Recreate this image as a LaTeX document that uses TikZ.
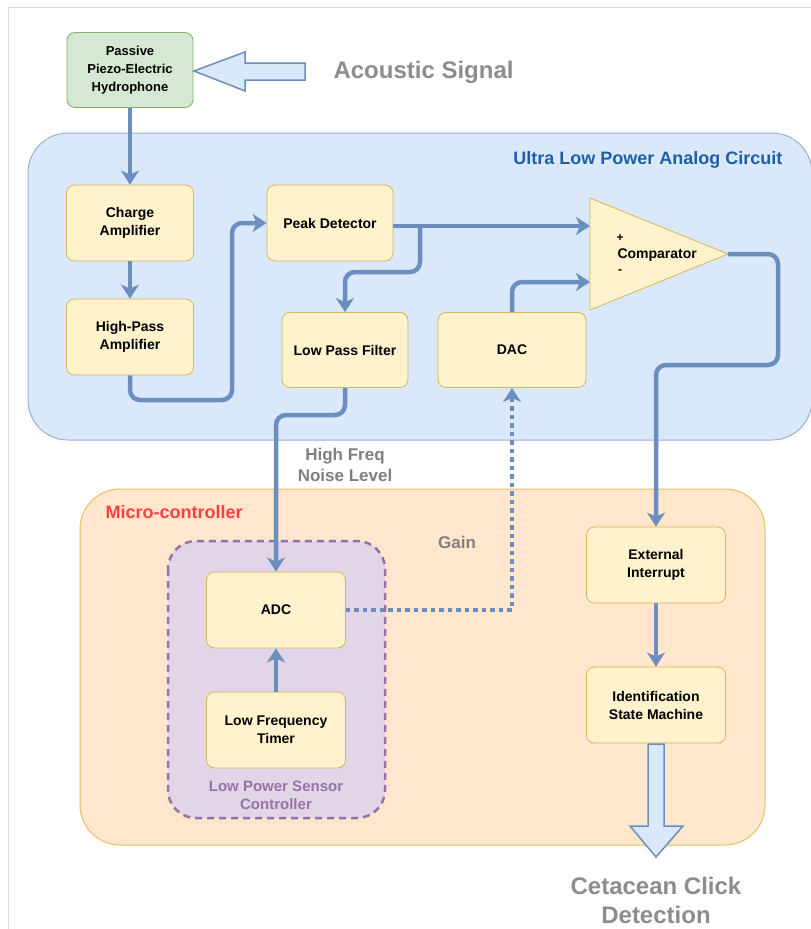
\documentclass[tikz,border=0pt]{standalone}
\usepackage{fontspec}
\setmainfont{Liberation Sans}
\usetikzlibrary{arrows.meta}
\definecolor{arrowc}{HTML}{6C8EBF}
\definecolor{bluefill}{HTML}{DAE8FC}
\definecolor{boxfill}{HTML}{FFF2CC}
\definecolor{boxline}{HTML}{D6B656}
\definecolor{greenfill}{HTML}{D5E8D4}
\definecolor{greenline}{HTML}{82B366}
\definecolor{orangefill}{HTML}{FFE6CC}
\definecolor{orangeline}{HTML}{E8BE60}
\definecolor{purplefill}{HTML}{E1D5E7}
\definecolor{purpleline}{HTML}{9673A6}
\definecolor{labelgray}{HTML}{808080}
\definecolor{titleblue}{HTML}{1F5FA8}
\definecolor{titlered}{HTML}{FF4040}
\tikzset{
  blk/.style={draw=boxline, fill=boxfill, line width=0.8pt, rounded corners=8pt,
    inner sep=0pt, align=center, font=\fontsize{14}{18}\selectfont\bfseries},
  conn/.style={draw=arrowc, line width=4.5pt, rounded corners=10pt,
    -{Stealth[length=14pt,width=18pt,inset=4pt]}},
  dotconn/.style={conn, dash pattern=on 4.5pt off 4pt},
  hollow/.style={draw=arrowc, fill=bluefill, line width=1.5pt, line join=miter},
  glabel/.style={text=labelgray, font=\fontsize{17}{21}\selectfont\bfseries, align=center},
}
\begin{document}
\begin{tikzpicture}[x=1pt,y=-1pt]
\useasboundingbox (0,0) rectangle (811,929);
\fill[white] (0,0) rectangle (811,929);
% page frame
\draw[black!15, line width=1pt] (8,929) -- (8,7) -- (811,7);
% containers
\draw[fill=bluefill, draw=arrowc!70, line width=1pt, rounded corners=40pt] (28,133) rectangle (812,440);
\node[anchor=east, text=titleblue, font=\fontsize{18}{22}\selectfont\bfseries] (titleA) at (786,160) {Ultra Low Power Analog Circuit};
\draw[fill=orangefill, draw=orangeline, line width=1pt, rounded corners=40pt] (80,489) rectangle (765,845);
\node[anchor=west, text=titlered, font=\fontsize{18}{22}\selectfont\bfseries] (titleM) at (102,512) {Micro-controller};
\draw[fill=purplefill, draw=purpleline, line width=2.5pt, dash pattern=on 7pt off 5pt, rounded corners=28pt] (168,541) rectangle (385,818);
\node[text=purpleline, font=\fontsize{15}{18}\selectfont\bfseries, align=center] (lpsc) at (276,795) {Low Power Sensor\\Controller};
% nodes
\node[blk, draw=greenline, fill=greenfill, minimum width=126pt, minimum height=75pt, font=\fontsize{13}{18}\selectfont\bfseries] (hyd) at (130,70) {Passive\\Piezo-Electric\\Hydrophone};
\node[blk, minimum width=127pt, minimum height=76pt] (charge) at (130,223) {Charge\\Amplifier};
\node[blk, minimum width=127pt, minimum height=76pt] (hp) at (130,337) {High-Pass\\Amplifier};
\node[blk, minimum width=126pt, minimum height=76pt] (peak) at (330,223) {Peak Detector};
\node[blk, minimum width=126pt, minimum height=75pt] (lpf) at (345,350) {Low Pass Filter};
\node[blk, minimum width=148pt, minimum height=75pt] (dac) at (512,350) {DAC};
\node[blk, minimum width=139pt, minimum height=76pt] (adc) at (276,610) {ADC};
\node[blk, minimum width=139pt, minimum height=76pt] (timer) at (276,730) {Low Frequency\\Timer};
\node[blk, minimum width=139pt, minimum height=76pt] (ext) at (656,565) {External\\Interrupt};
\node[blk, minimum width=139pt, minimum height=76pt] (ids) at (656,705) {Identification\\State Machine};
% comparator
\draw[draw=boxline, fill=boxfill, line width=0.8pt] (590,198) -- (728,254) -- (590,310) -- cycle;
\coordinate (cmpP) at (590,226);
\coordinate (cmpM) at (590,282);
\coordinate (cmpO) at (728,254);
\node[anchor=west, font=\fontsize{14}{18}\selectfont\bfseries] (cmptxt) at (614,255) {Comparator};
\node[font=\fontsize{12}{14}\selectfont\bfseries] (plus) at (620,238) {+};
\node[font=\fontsize{12}{14}\selectfont\bfseries] (minus) at (620,272) {-};
% hollow arrows
\draw[hollow] (305,63) -- (245,63) -- (245,52) -- (194,71) -- (245,91) -- (245,80) -- (305,80) -- cycle;
\node[text=labelgray!90, font=\fontsize{24}{28}\selectfont\bfseries, anchor=west] (acoustic) at (330,72) {Acoustic Signal};
\draw[hollow] (648,744) -- (648,826) -- (630,826) -- (656,857) -- (683,826) -- (664,826) -- (664,744) -- cycle;
\node[text=labelgray!90, font=\fontsize{24}{29}\selectfont\bfseries, align=center] (ceta) at (656,900) {Cetacean Click\\Detection};
% labels
\node[glabel] (hfnl) at (345,465) {High Freq\\Noise Level};
\node[glabel] (gain) at (457,542) {Gain};
% connectors
\draw[conn] (hyd.south) -- (charge.north);
\draw[conn] (charge.south) -- (hp.north);
\draw[conn] (hp.south) -- (130,400) -- (232,400) -- (232,223) -- (peak.west);
\draw[conn] (peak.east |- cmpP) -- (cmpP);
\coordinate (br) at (420,226);
\draw[conn] (br) -- (420,272) -- (345,272) -- (lpf.north);
\draw[conn] (dac.north) -- (512,282) -- (cmpM);
\draw[conn] (cmpO) -- (778,254) -- (778,365) -- (656,365) -- (ext.north);
\draw[conn] (lpf.south) -- (345,415) -- (276,415) -- (adc.north);
\draw[dotconn, rounded corners=0pt] (adc.east) -- (512,610) -- (dac.south);
\draw[conn] (timer.north) -- (adc.south);
\draw[conn] (ext.south) -- (ids.north);
\end{tikzpicture}
\end{document}
